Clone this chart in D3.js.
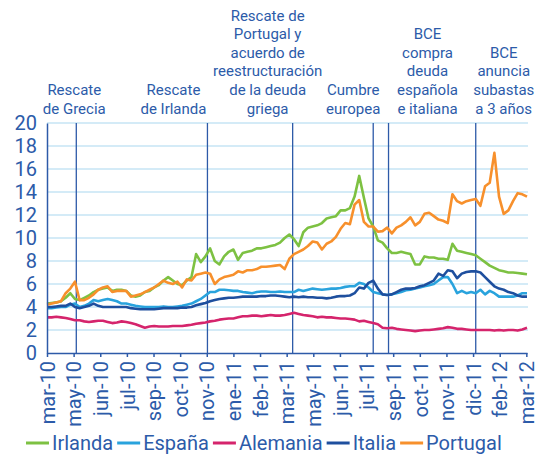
<!DOCTYPE html>
<html>
<head>
<meta charset="utf-8">
<script src="https://cdn.jsdelivr.net/npm/d3@7"></script>
<style>
  body { margin: 0; background: #fff; }
  text { font-family: Roboto, "Open Sans", sans-serif; fill: #2c5ba9; }
</style>
</head>
<body>
<script>
// x axis: date span and tick labels (one tick every 40 days)
var startDay = new Date(2010, 2, 31);
var endDay = new Date(2012, 2, 21);
var tickStep = 40;
var tickLabels = ["mar-10","may-10","jun-10","jul-10","sep-10","oct-10","nov-10","ene-11","feb-11","mar-11",
                  "may-11","jun-11","jul-11","sep-11","oct-11","nov-11","dic-11","feb-12","mar-12"];
var yTicks = [0, 2, 4, 6, 8, 10, 12, 14, 16, 18, 20];

// events (vertical lines)
var events = [
  {ymd: "2010-05-14", label: ["Rescate", "de Grecia"], dx: -2},
  {ymd: "2010-11-27", label: ["Rescate", "de Irlanda"], dx: -34},
  {ymd: "2011-04-04", label: ["Rescate de", "Portugal y", "acuerdo de", "reestructuración", "de la deuda", "griega"], dx: -25},
  {ymd: "2011-08-03", label: ["Cumbre", "europea"], dx: -20},
  {ymd: "2011-08-26", label: ["BCE", "compra", "deuda", "española", "e italiana"], dx: 39},
  {ymd: "2012-01-04", label: ["BCE", "anuncia", "subastas", "a 3 años"], dx: 28}
];

// weekly observations (10-year yields, %)
var irlanda = [4.3, 4.35, 4.4, 4.5, 4.8, 5.2, 4.7, 4.6, 4.8, 5.0,
  5.3, 5.5, 5.6, 5.7, 5.4, 5.5, 5.5, 5.4, 5.0, 4.9,
  5.0, 5.3, 5.4, 5.7, 5.9, 6.3, 6.6, 6.3, 6.0, 5.9,
  6.3, 6.6, 8.6, 7.9, 8.4, 9.1, 8.0, 7.7, 8.4, 8.8,
  9.0, 8.1, 8.7, 8.8, 8.9, 9.1, 9.1, 9.2, 9.3, 9.4,
  9.6, 10.0, 10.3, 9.9, 9.3, 10.5, 10.9, 11.0, 11.1, 11.3,
  11.7, 11.8, 11.9, 12.4, 12.4, 12.6, 13.6, 15.4, 13.5, 11.7,
  11.0, 9.8, 9.6, 9.1, 8.7, 8.7, 8.8, 8.7, 8.6, 7.7,
  7.7, 8.4, 8.3, 8.3, 8.2, 8.2, 8.1, 9.5, 8.9, 8.8,
  8.7, 8.6, 8.5, 8.2, 7.9, 7.6, 7.4, 7.2, 7.1, 7.0,
  7.0, 6.95, 6.9, 6.85];
var espana = [3.9, 3.9, 3.95, 4.0, 4.0, 4.2, 4.3, 4.0, 4.1, 4.3,
  4.6, 4.5, 4.6, 4.7, 4.6, 4.5, 4.3, 4.3, 4.2, 4.1,
  4.05, 4.0, 4.0, 4.0, 4.0, 4.05, 4.0, 4.0, 4.05, 4.1,
  4.2, 4.3, 4.5, 4.7, 5.0, 5.3, 5.3, 5.5, 5.5, 5.45,
  5.4, 5.4, 5.3, 5.25, 5.2, 5.3, 5.35, 5.35, 5.3, 5.3,
  5.35, 5.3, 5.3, 5.3, 5.5, 5.4, 5.5, 5.6, 5.55, 5.5,
  5.55, 5.6, 5.6, 5.65, 5.75, 5.8, 5.8, 6.1, 6.0, 5.7,
  5.3, 5.2, 5.1, 5.05, 5.1, 5.2, 5.3, 5.45, 5.5, 5.6,
  5.7, 5.8, 5.9, 6.0, 6.3, 6.6, 6.6, 6.0, 5.2, 5.4,
  5.2, 5.3, 5.2, 5.5, 5.1, 5.4, 5.2, 4.9, 4.9, 4.9,
  4.9, 5.0, 5.2, 5.2];
var alemania = [3.1, 3.1, 3.15, 3.1, 3.05, 2.95, 2.85, 2.85, 2.75, 2.7,
  2.75, 2.8, 2.8, 2.7, 2.6, 2.65, 2.75, 2.7, 2.6, 2.5,
  2.35, 2.2, 2.3, 2.35, 2.3, 2.3, 2.3, 2.35, 2.35, 2.35,
  2.4, 2.45, 2.55, 2.6, 2.65, 2.75, 2.8, 2.9, 2.95, 3.0,
  3.0, 3.1, 3.2, 3.2, 3.25, 3.25, 3.2, 3.25, 3.3, 3.25,
  3.25, 3.3, 3.4, 3.5, 3.4, 3.3, 3.25, 3.2, 3.1, 3.15,
  3.1, 3.1, 3.05, 3.0, 3.0, 2.95, 2.9, 2.75, 2.8, 2.7,
  2.6, 2.5, 2.2, 2.15, 2.2, 2.1, 2.05, 2.0, 1.95, 1.9,
  1.95, 2.0, 2.0, 2.05, 2.1, 2.15, 2.25, 2.2, 2.1, 2.1,
  2.05, 2.0, 2.0, 2.0, 2.0, 2.0, 1.95, 2.0, 1.95, 2.0,
  2.0, 1.95, 2.05, 2.2];
var italia = [4.0, 4.0, 4.05, 4.1, 4.1, 4.3, 4.0, 3.9, 4.0, 4.1,
  4.3, 4.1, 4.0, 4.0, 4.0, 4.0, 4.0, 4.0, 3.9, 3.85,
  3.8, 3.8, 3.8, 3.8, 3.85, 3.9, 3.9, 3.9, 3.9, 3.95,
  3.95, 4.0, 4.15, 4.25, 4.35, 4.5, 4.6, 4.7, 4.75, 4.8,
  4.8, 4.85, 4.9, 4.9, 4.9, 4.9, 4.95, 4.95, 5.0, 5.0,
  4.95, 4.9, 4.85, 4.9, 4.85, 4.9, 4.85, 4.85, 4.8, 4.8,
  4.75, 4.8, 4.9, 4.95, 4.95, 5.0, 5.2, 5.7, 5.6, 6.1,
  6.3, 5.6, 5.1, 5.05, 5.1, 5.3, 5.5, 5.6, 5.6, 5.65,
  5.8, 5.9, 6.1, 6.3, 6.9, 6.7, 7.2, 7.1, 6.5, 6.9,
  7.05, 7.1, 7.1, 7.0, 6.6, 6.2, 5.8, 5.6, 5.5, 5.3,
  5.2, 5.0, 4.9, 4.9];
var portugal = [4.2, 4.3, 4.4, 4.5, 5.2, 5.6, 6.2, 4.6, 4.6, 4.8,
  5.1, 5.5, 5.7, 5.8, 5.3, 5.4, 5.4, 5.4, 4.9, 5.0,
  5.1, 5.3, 5.5, 5.7, 6.0, 6.3, 6.1, 6.0, 6.2, 5.7,
  6.4, 6.3, 6.8, 6.9, 7.0, 6.9, 6.0, 6.4, 6.6, 6.7,
  6.8, 7.1, 7.0, 7.2, 7.2, 7.3, 7.5, 7.5, 7.55, 7.6,
  7.65, 7.3, 8.2, 8.6, 8.8, 9.0, 9.3, 9.7, 9.6, 9.0,
  9.5, 9.7, 10.1, 10.8, 11.3, 11.2, 12.9, 13.3, 11.4, 11.0,
  11.0, 10.55, 10.6, 10.9, 10.4, 10.9, 11.1, 11.4, 11.8, 11.1,
  11.4, 12.1, 12.2, 11.9, 11.6, 11.5, 11.3, 13.8, 13.2, 13.0,
  13.2, 13.3, 13.4, 12.8, 14.5, 14.8, 17.4, 13.6, 12.1, 12.4,
  13.2, 13.9, 13.8, 13.6];

var seriesNames = ["Irlanda", "España", "Alemania", "Italia", "Portugal"];
var seriesValues = [irlanda, espana, alemania, italia, portugal];
var seriesColors = ["#7dc142", "#29a3dd", "#d5246c", "#1e4f9e", "#f7902c"];

// observation dates: weekly from start, plus the last day
var dates = d3.timeDay.range(startDay, endDay, 7);
dates.push(endDay);

var width = 541;
var height = 459;
var margin = {top: 123, right: 14, bottom: 106, left: 47};

var x = d3.scaleTime()
  .domain([startDay, endDay])
  .range([margin.left, width - margin.right]);

var y = d3.scaleLinear()
  .domain([0, 20])
  .range([height - margin.bottom, margin.top]);

var svg = d3.select("body")
  .append("svg")
  .attr("width", width)
  .attr("height", height);

/* grid */
svg.append("g")
  .selectAll("line")
  .data(yTicks.filter(d => d > 0))
  .enter()
  .append("line")
  .attr("x1", x.range()[0])
  .attr("x2", x.range()[1] + 1)
  .attr("y1", d => y(d))
  .attr("y2", d => y(d))
  .style("stroke", "#c6e5f5")
  .style("stroke-width", 1.5);

/* event lines */
var parseYmd = d3.timeParse("%Y-%m-%d");
events.forEach(function(d){ d.day = parseYmd(d.ymd); });

svg.append("g")
  .selectAll("line")
  .data(events)
  .enter()
  .append("line")
  .attr("x1", d => x(d.day))
  .attr("x2", d => x(d.day))
  .attr("y1", y(20))
  .attr("y2", y(0))
  .style("stroke", "#2d5aa8")
  .style("stroke-width", 1.3);

/* event labels */
var lineH = 18.6;
var evLabels = svg.append("g")
  .selectAll("text")
  .data(events)
  .enter()
  .append("text")
  .attr("text-anchor", "middle")
  .style("font-size", "15px");

evLabels.each(function(d){
  var t = d3.select(this);
  var n = d.label.length;
  d.label.forEach(function(s, i){
    t.append("tspan")
      .attr("x", x(d.day) + d.dx)
      .attr("y", 113.5 - (n - 1 - i) * lineH)
      .text(s);
  });
});

/* series */
var line = d3.line()
  .x((d, i) => x(dates[i]))
  .y(d => y(d));

svg.append("g")
  .selectAll("path")
  .data(seriesValues)
  .enter()
  .append("path")
  .attr("d", d => line(d))
  .style("fill", "none")
  .style("stroke", (d, i) => seriesColors[i])
  .style("stroke-width", 2.6)
  .style("stroke-linejoin", "round");

/* axes */
var tickDays = tickLabels.map((d, i) => d3.timeDay.offset(startDay, i * tickStep));

var xAxis = svg.append("g")
  .attr("transform", `translate(0,${y(0)})`)
  .call(d3.axisBottom(x)
    .tickValues(tickDays)
    .tickSize(4)
    .tickSizeOuter(0)
    .tickFormat((d, i) => tickLabels[i]));

xAxis.selectAll("path, line")
  .style("stroke", "#2d5aa8")
  .style("stroke-width", 1.5);

xAxis.selectAll("text")
  .attr("transform", "rotate(-90)")
  .attr("text-anchor", "end")
  .attr("x", -8)
  .attr("y", 0)
  .attr("dy", "0.36em")
  .style("font-size", "20px")
  .style("font-family", "Roboto, sans-serif")
  .style("fill", "#2c5ba9");

var yAxis = svg.append("g")
  .attr("transform", `translate(${margin.left},0)`)
  .call(d3.axisLeft(y)
    .tickValues(yTicks)
    .tickSize(0)
    .tickPadding(10));

yAxis.select(".domain")
  .style("stroke", "#2d5aa8")
  .style("stroke-width", 1.5);

yAxis.selectAll("text")
  .style("font-size", "20px")
  .style("font-family", "Roboto, sans-serif")
  .style("fill", "#2c5ba9");

/* legend */
var legend = svg.append("g");
var lx = 26;
seriesNames.forEach(function(name, i){
  legend.append("line")
    .attr("x1", lx)
    .attr("x2", lx + 23)
    .attr("y1", 443)
    .attr("y2", 443)
    .style("stroke", seriesColors[i])
    .style("stroke-width", 3);
  var t = legend.append("text")
    .attr("x", lx + 26)
    .attr("y", 450)
    .style("font-size", "20px")
    .text(name);
  lx = lx + 26 + t.node().getComputedTextLength() + 4;
});
</script>
</body>
</html>
